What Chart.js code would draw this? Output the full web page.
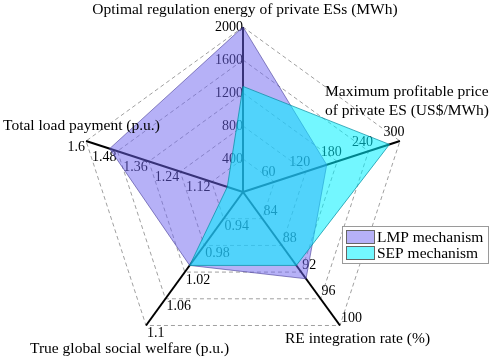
<!DOCTYPE html>
<html>
<head>
<meta charset="utf-8">
<script src="https://cdn.jsdelivr.net/npm/chart.js@4.4.0/dist/chart.umd.min.js"></script>
<style>
  html, body { margin: 0; padding: 0; background: #fff; }
  #wrap { width: 491px; height: 360px; }
  #font-probe { position: absolute; left: -999px; top: 0; font-family: "Liberation Serif"; font-size: 16px; }
</style>
</head>
<body>
<div id="font-probe">Optimal 0123456789</div>
<div id="wrap"><canvas id="radar-chart" width="491" height="360"></canvas></div>
<script>
// Axis names, clockwise from the top
const axisTitles = [
  'Optimal regulation energy of private ESs (MWh)',
  'Maximum profitable price of private ES (US$/MWh)',
  'RE integration rate (%)',
  'True global social welfare (p.u.)',
  'Total load payment (p.u.)'
];
// Each axis has its own scale: value at the centre and tick labels out to the rim
const axisMin = [0, 0, 80, 0.9, 1.0];
const axisTicks = [
  [400, 800, 1200, 1600, 2000],
  [60, 120, 180, 240, 300],
  [84, 88, 92, 96, 100],
  [0.94, 0.98, 1.02, 1.06, 1.1],
  [1.12, 1.24, 1.36, 1.48, 1.6]
];
const seriesNames = ['LMP mechanism', 'SEP mechanism'];
const lmpValues = [2000, 160, 93, 1.01, 1.51];
const sepValues = [1280, 280, 91, 1.01, 1.06];

const FONT = '"Liberation Serif", "Times New Roman", Times, serif';

// map a value onto the shared 0..1 radial scale
function toUnit(axis, v) {
  const max = axisTicks[axis][axisTicks[axis].length - 1];
  return (v - axisMin[axis]) / (max - axisMin[axis]);
}

// tick label placement for each axis (align, dx, dy)
const tickPlace = [
  ['right', 0, 0],
  ['center', -6, -9],
  ['left', 1, -7],
  ['left', 1, 8],
  ['right', -1, 6]
];

// Draw per-axis tick labels under the filled areas
const tickLabelPlugin = {
  id: 'tickLabels',
  beforeDatasetsDraw(chart) {
    const ctx = chart.ctx;
    const scale = chart.scales.r;
    ctx.save();
    ctx.font = '14px ' + FONT;
    ctx.fillStyle = '#000';
    ctx.textBaseline = 'middle';
    axisTicks.forEach((ticks, i) => {
      const [align, dx, dy] = tickPlace[i];
      ctx.textAlign = align;
      ticks.forEach(t => {
        const p = scale.getPointPositionForValue(i, toUnit(i, t));
        ctx.fillText(String(t), p.x + dx, p.y + dy);
      });
    });
    ctx.restore();
  }
};

// Axis titles and the boxed legend
const overlayPlugin = {
  id: 'overlay',
  afterDraw(chart) {
    const ctx = chart.ctx;
    ctx.save();
    ctx.font = '15.5px ' + FONT;
    ctx.fillStyle = '#000';
    ctx.textBaseline = 'alphabetic';

    ctx.textAlign = 'center';
    ctx.fillText(axisTitles[0], 245, 14);
    ctx.textAlign = 'left';
    ctx.fillText('Maximum profitable price', 325, 96);
    ctx.fillText('of private ES (US$/MWh)', 325, 115);
    ctx.fillText(axisTitles[2], 285, 343);
    ctx.fillText(axisTitles[3], 30, 353);
    ctx.fillText(axisTitles[4], 3, 130);

    // legend
    ctx.fillStyle = '#fff';
    ctx.fillRect(342.5, 226.5, 146, 37);
    ctx.strokeStyle = '#9a9a9a';
    ctx.lineWidth = 1;
    ctx.strokeRect(342.5, 226.5, 146, 37);
    ctx.font = '15.5px ' + FONT;
    ctx.textBaseline = 'middle';
    chart.data.datasets.forEach((ds, k) => {
      const y = 230.5 + k * 16;
      ctx.fillStyle = '#fff';
      ctx.fillRect(346.5, y, 28, 13);
      ctx.fillStyle = ds.backgroundColor;
      ctx.fillRect(346.5, y, 28, 13);
      ctx.strokeStyle = '#666';
      ctx.strokeRect(346.5, y, 28, 13);
      ctx.fillStyle = '#000';
      ctx.fillText(ds.label, 377, y + 7);
    });
    ctx.restore();
  }
};

function renderRadar() {
  const ctx = document.getElementById('radar-chart').getContext('2d');
  new Chart(ctx, {
    type: 'radar',
    data: {
      labels: axisTitles,
      datasets: [{
        label: seriesNames[0],
        data: lmpValues.map((v, i) => toUnit(i, v)),
        backgroundColor: 'rgba(110, 100, 240, 0.5)',
        borderColor: 'rgba(70, 60, 150, 0.6)',
        borderWidth: 1,
        pointRadius: 0,
        fill: true,
        order: 1 // drawn underneath
      }, {
        label: seriesNames[1],
        data: sepValues.map((v, i) => toUnit(i, v)),
        backgroundColor: 'rgba(0, 240, 255, 0.55)',
        borderColor: 'rgba(0, 140, 160, 0.7)',
        borderWidth: 1,
        pointRadius: 0,
        fill: true,
        order: 0
      }]
    },
    options: {
      responsive: false,
      animation: false,
      devicePixelRatio: 1,
      layout: { padding: { top: 27, bottom: 3, left: 0, right: 5 } },
      plugins: {
        legend: { display: false },
        tooltip: { enabled: false }
      },
      scales: {
        r: {
          min: 0,
          max: 1,
          ticks: { display: false, stepSize: 0.2 },
          pointLabels: { display: false },
          grid: { color: '#a0a0a0', lineWidth: 1 },
          border: { dash: [4, 3] },
          angleLines: { color: '#000', lineWidth: 2 }
        }
      }
    },
    plugins: [tickLabelPlugin, overlayPlugin]
  });
}

document.addEventListener('DOMContentLoaded', () => {
  // make sure the serif face is ready before the canvas text is drawn
  Promise.all([
    document.fonts.load('16px "Liberation Serif"'),
    document.fonts.load('14px "Liberation Serif"')
  ]).catch(() => {}).then(renderRadar);
});
</script>
</body>
</html>
